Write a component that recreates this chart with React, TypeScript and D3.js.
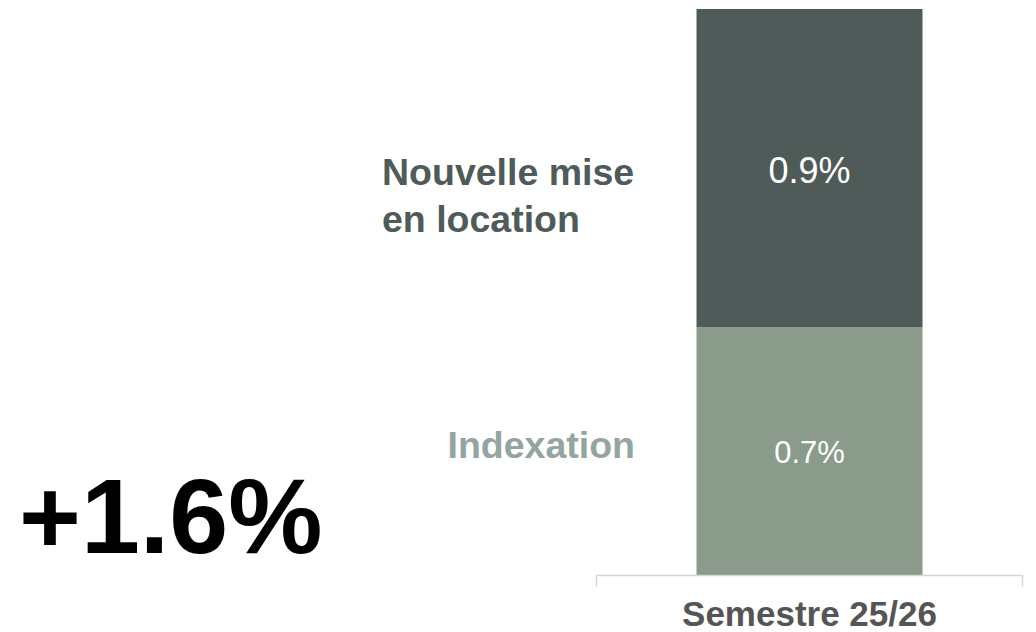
import React from "react";
import * as d3 from "d3";

const categories = ["Semestre 25/26"];
const seriesNames = ["Indexation", "Nouvelle mise en location"];
const seriesLines = [["Indexation"], ["Nouvelle mise", "en location"]];
const indexation = [0.7];
const nouvelle = [0.9];
const totalLabel = "+1.6%";
const indexationLabels = ["0.7%"];
const nouvelleLabels = ["0.9%"];

const W = 1036;
const H = 632;
const FONT = "'Liberation Sans', Arial, Helvetica, sans-serif";

export default function App() {
  const x = d3.scaleBand<string>().domain(categories).range([596, 1023]).padding(0.3078);
  const y = d3.scaleLinear().domain([0, 1.6]).range([575, 9]);

  const stackData = categories.map((c, i) => ({ cat: c, Indexation: indexation[i], Nouvelle: nouvelle[i] }));
  const stack = d3.stack<any>().keys(["Indexation", "Nouvelle"]);
  const layers = stack(stackData);
  const colors: Record<string, string> = { Indexation: "#8a9b8b", Nouvelle: "#4e5b58" };

  const [x0, x1] = x.range();
  const axisY = y(0) + 0.5;
  const cx = (x(categories[0]) as number) + x.bandwidth() / 2;

  return (
    <svg width={W} height={H} style={{ position: "absolute", left: 0, top: 0, background: "#fff" }} fontFamily={FONT}>
      {layers.map((layer) =>
        layer.map((d, i) => (
          <rect
            key={layer.key + i}
            x={x(categories[i])}
            y={y(d[1])}
            width={x.bandwidth()}
            height={y(d[0]) - y(d[1])}
            fill={colors[layer.key]}
          />
        ))
      )}
      {/* value labels */}
      <text x={cx} y={183} textAnchor="middle" fill="#ffffff" fontSize={36}>
        {nouvelleLabels[0]}
      </text>
      <text x={cx} y={463} textAnchor="middle" fill="#ffffff" fontSize={31}>
        {indexationLabels[0]}
      </text>
      {/* axis */}
      <path d={`M${x0 + 0.5},${axisY + 11}V${axisY}H${x1 - 0.5}V${axisY + 11}`} fill="none" stroke="#d6d6d6" strokeWidth={1.5} />
      <text x={cx} y={626} textAnchor="middle" fill="#555555" fontSize={35} fontWeight="bold">
        {categories[0]}
      </text>
      {/* series labels */}
      <text x={382} y={185} textAnchor="start" fill="#4e5b58" fontSize={37.5} fontWeight="bold">
        {seriesLines[1][0]}
      </text>
      <text x={382} y={232} textAnchor="start" fill="#4e5b58" fontSize={37.5} fontWeight="bold">
        {seriesLines[1][1]}
      </text>
      <text x={635} y={458} textAnchor="end" fill="#94a4a0" fontSize={37.5} fontWeight="bold">
        {seriesLines[0][0]}
      </text>
      {/* total */}
      <text x={19} y={553} fill="#000000" fontSize={106} fontWeight="bold">
        {totalLabel}
      </text>
    </svg>
  );
}
